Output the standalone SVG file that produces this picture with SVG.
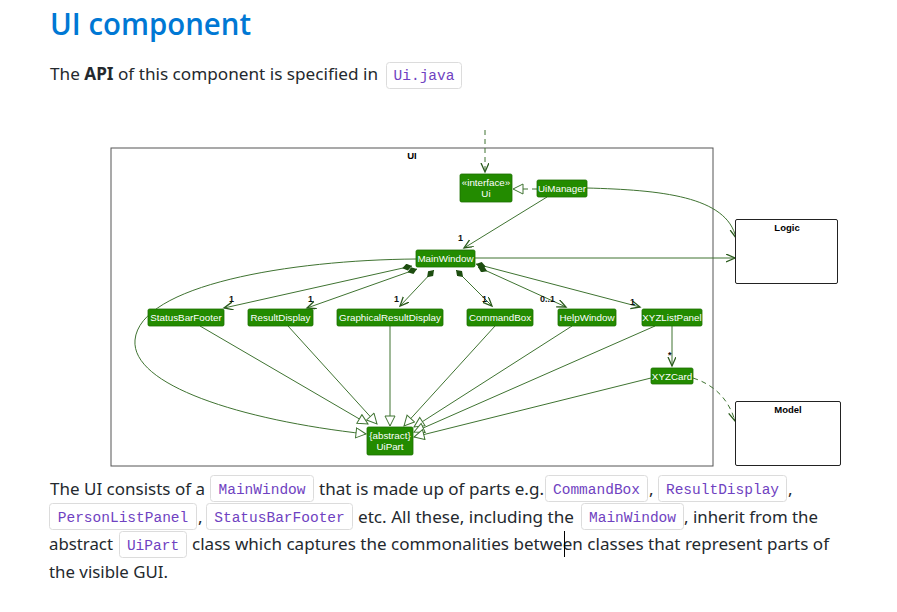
<svg xmlns="http://www.w3.org/2000/svg" width="897" height="612" viewBox="0 0 897 612">
<defs>
<style>
.h1{font-family:"Open Sans","Noto Sans","Liberation Sans",sans-serif;font-weight:600;font-size:31px;fill:#0078d4}
.p{font-family:"Noto Sans","Open Sans","Liberation Sans",sans-serif;font-size:17px;fill:#24292e}
.code{font-family:"Liberation Mono","DejaVu Sans Mono",monospace;font-size:14.5px;fill:#6f42c1}
.cbox{fill:#ffffff;stroke:#dcdcdc;stroke-width:1}
.node{fill:#238b00;stroke:#1c6f00;stroke-width:0.8}
.nt{font-family:"Liberation Sans","DejaVu Sans",sans-serif;font-size:9.8px;fill:#ffffff;text-anchor:middle}
.pkg{fill:#ffffff;stroke:#222;stroke-width:1}
.pt{font-family:"Liberation Sans","DejaVu Sans",sans-serif;font-size:9.5px;font-weight:bold;fill:#000;text-anchor:middle}
.lbl{font-family:"Liberation Sans","DejaVu Sans",sans-serif;font-size:9px;font-weight:bold;fill:#111}
.ln{fill:none;stroke:#3f7331;stroke-width:1}
.dash{stroke-dasharray:5,4}
</style>
<marker id="arr" markerWidth="12" markerHeight="10" refX="9" refY="4" orient="auto" markerUnits="userSpaceOnUse">
<path d="M0,0 L9,4 L0,8" fill="none" stroke="#2a5a1c" stroke-width="1.3"/>
</marker>
<marker id="tri" markerWidth="14" markerHeight="14" refX="11" refY="5.5" orient="auto" markerUnits="userSpaceOnUse">
<path d="M1,0.5 L11,5.5 L1,10.5 z" fill="#ffffff" stroke="#3f7331" stroke-width="1"/>
</marker>
<marker id="dia" markerWidth="12" markerHeight="8" refX="10" refY="3.5" orient="auto-start-reverse" markerUnits="userSpaceOnUse">
<path d="M0,3.5 L5,0 L10,3.5 L5,7 z" fill="#1d4d10"/>
</marker>
</defs>

<!-- page text -->
<text class="h1" x="50" y="35" textLength="201" lengthAdjust="spacingAndGlyphs">UI component</text>
<text class="p" x="50" y="80" textLength="328" lengthAdjust="spacingAndGlyphs">The <tspan font-weight="bold">API</tspan> of this component is specified in</text>
<rect class="cbox" x="386.5" y="62.5" width="75" height="26" rx="3"/>
<text class="code" x="424" y="80" text-anchor="middle">Ui.java</text>

<!-- diagram frame -->
<g id="frame">
<rect x="111" y="148" width="602" height="318" fill="#ffffff" stroke="#555" stroke-width="1"/>
<text class="pt" x="412" y="159">UI</text>
</g>

<!-- connectors -->
<g id="connectors">
<line class="ln dash" x1="485" y1="130" x2="485" y2="172" marker-end="url(#arr)"/>
<line class="ln dash" x1="537" y1="189" x2="513" y2="189" marker-end="url(#tri)"/>
<line class="ln" x1="547" y1="197" x2="464" y2="248" marker-end="url(#arr)"/>
<line class="ln" x1="475" y1="258" x2="735" y2="258" marker-end="url(#arr)"/>
<path class="ln" d="M587,188 C660,190 727,196 736,238" marker-end="url(#arr)"/>
<path class="ln" d="M416,259 C290,260 140,285 135,340 C131,385 240,420 366,434" marker-end="url(#tri)"/>

<line class="ln" x1="412" y1="266" x2="224" y2="308" marker-start="url(#dia)" marker-end="url(#arr)"/>
<line class="ln" x1="417" y1="269" x2="307" y2="308" marker-start="url(#dia)" marker-end="url(#arr)"/>
<line class="ln" x1="434" y1="270" x2="400" y2="306" marker-start="url(#dia)" marker-end="url(#arr)"/>
<line class="ln" x1="456" y1="270" x2="492" y2="306" marker-start="url(#dia)" marker-end="url(#arr)"/>
<line class="ln" x1="478" y1="267" x2="566" y2="307" marker-start="url(#dia)" marker-end="url(#arr)"/>
<line class="ln" x1="476" y1="264" x2="640" y2="307" marker-start="url(#dia)" marker-end="url(#arr)"/>

<line class="ln" x1="200" y1="326" x2="368" y2="424" marker-end="url(#tri)"/>
<line class="ln" x1="288" y1="326" x2="377" y2="424" marker-end="url(#tri)"/>
<line class="ln" x1="390" y1="326" x2="390" y2="426" marker-end="url(#tri)"/>
<line class="ln" x1="495" y1="326" x2="404" y2="426" marker-end="url(#tri)"/>
<line class="ln" x1="572" y1="326" x2="414" y2="427" marker-end="url(#tri)"/>
<line class="ln" x1="655" y1="326" x2="414" y2="432" marker-end="url(#tri)"/>
<line class="ln" x1="651" y1="378" x2="414" y2="437" marker-end="url(#tri)"/>

<line class="ln" x1="672" y1="326" x2="672" y2="366" marker-end="url(#arr)"/>
<path class="ln dash" d="M693,378 C715,385 729,400 735,421" marker-end="url(#arr)"/>

<text class="lbl" x="458" y="241">1</text>
<text class="lbl" x="229" y="302">1</text>
<text class="lbl" x="308" y="302">1</text>
<text class="lbl" x="394" y="302">1</text>
<text class="lbl" x="482" y="302">1</text>
<text class="lbl" x="540" y="302">0..1</text>
<text class="lbl" x="630" y="305">1</text>
<text class="lbl" x="668" y="358">*</text>
</g>

<!-- nodes -->
<g id="n-ui"><rect class="node" x="460" y="174" width="52" height="28" rx="1.5"/><text class="nt" x="486" y="185.5">«interface»</text><text class="nt" x="486" y="197">Ui</text></g>
<g id="n-uimanager"><rect class="node" x="537" y="180" width="50" height="17" rx="1.5"/><text class="nt" x="562" y="192">UiManager</text></g>
<g id="n-mainwindow"><rect class="node" x="416" y="250" width="59" height="17" rx="1.5"/><text class="nt" x="445.5" y="262">MainWindow</text></g>
<g id="n-statusbarfooter"><rect class="node" x="148" y="309" width="76" height="17" rx="1.5"/><text class="nt" x="186" y="321">StatusBarFooter</text></g>
<g id="n-resultdisplay"><rect class="node" x="248" y="309" width="65" height="17" rx="1.5"/><text class="nt" x="280.5" y="321">ResultDisplay</text></g>
<g id="n-graphical"><rect class="node" x="337" y="309" width="106" height="17" rx="1.5"/><text class="nt" x="390" y="321">GraphicalResultDisplay</text></g>
<g id="n-commandbox"><rect class="node" x="467" y="309" width="66" height="17" rx="1.5"/><text class="nt" x="500" y="321">CommandBox</text></g>
<g id="n-helpwindow"><rect class="node" x="558" y="309" width="58" height="17" rx="1.5"/><text class="nt" x="587" y="321">HelpWindow</text></g>
<g id="n-xyzlistpanel"><rect class="node" x="642" y="309" width="60" height="17" rx="1.5"/><text class="nt" x="672" y="321">XYZListPanel</text></g>
<g id="n-xyzcard"><rect class="node" x="651" y="368" width="42" height="16" rx="1.5"/><text class="nt" x="672" y="379.5">XYZCard</text></g>
<g id="n-uipart"><rect class="node" x="367" y="427" width="46" height="28" rx="1.5"/><text class="nt" x="390" y="438.5">{abstract}</text><text class="nt" x="390" y="450">UiPart</text></g>
<g id="n-logic"><rect class="pkg" x="735.5" y="219.5" width="102" height="64" rx="1.5"/><text class="pt" x="787" y="231">Logic</text></g>
<g id="n-model"><rect class="pkg" x="735.5" y="401.5" width="105" height="64" rx="1.5"/><text class="pt" x="788" y="413">Model</text></g>

<!-- bottom paragraph -->
<g id="para">
<text class="p" x="50" y="495" textLength="155" lengthAdjust="spacingAndGlyphs">The UI consists of a</text>
<rect class="cbox" x="210.5" y="475.5" width="103" height="26" rx="3"/>
<text class="code" x="262" y="494" text-anchor="middle">MainWindow</text>
<text class="p" x="319" y="495" textLength="225" lengthAdjust="spacingAndGlyphs">that is made up of parts e.g.</text>
<rect class="cbox" x="545.5" y="475.5" width="102" height="26" rx="3"/>
<text class="code" x="596.5" y="494" text-anchor="middle">CommandBox</text>
<text class="p" x="649" y="495">,</text>
<rect class="cbox" x="658.5" y="475.5" width="128" height="26" rx="3"/>
<text class="code" x="722.5" y="494" text-anchor="middle">ResultDisplay</text>
<text class="p" x="788" y="495">,</text>

<rect class="cbox" x="49.5" y="503.5" width="147" height="26" rx="3"/>
<text class="code" x="123" y="522" text-anchor="middle">PersonListPanel</text>
<text class="p" x="198" y="523">,</text>
<rect class="cbox" x="206.5" y="503.5" width="146" height="26" rx="3"/>
<text class="code" x="279.5" y="522" text-anchor="middle">StatusBarFooter</text>
<text class="p" x="358" y="523" textLength="216" lengthAdjust="spacingAndGlyphs">etc. All these, including the</text>
<rect class="cbox" x="581.5" y="503.5" width="102" height="26" rx="3"/>
<text class="code" x="632.5" y="522" text-anchor="middle">MainWindow</text>
<text class="p" x="684" y="523" textLength="134" lengthAdjust="spacingAndGlyphs">, inherit from the</text>

<text class="p" x="49" y="550" textLength="64" lengthAdjust="spacingAndGlyphs">abstract</text>
<rect class="cbox" x="119.5" y="531.5" width="67" height="26" rx="3"/>
<text class="code" x="153" y="550" text-anchor="middle">UiPart</text>
<text class="p" x="192" y="550" textLength="637" lengthAdjust="spacingAndGlyphs">class which captures the commonalities between classes that represent parts of</text>
<line x1="564.5" y1="531" x2="564.5" y2="557" stroke="#000" stroke-width="1"/>

<text class="p" x="49" y="578" textLength="119" lengthAdjust="spacingAndGlyphs">the visible GUI.</text>
</g>
</svg>
